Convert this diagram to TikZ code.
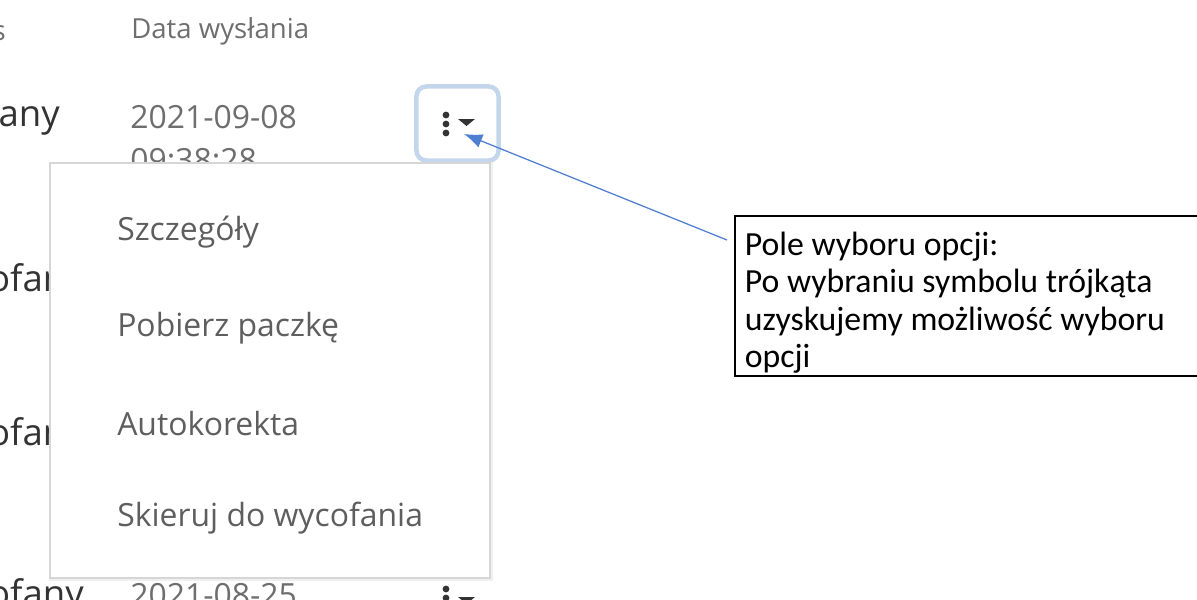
\documentclass[tikz,border=0pt]{standalone}
\usepackage{fontspec}
\usepackage{tikz}
\usetikzlibrary{positioning,arrows.meta}
\newfontfamily\uifont{Open Sans}
\newfontfamily\notefont{Carlito}
\definecolor{uigray}{HTML}{6E6E6E}
\definecolor{uidark}{HTML}{333333}
\definecolor{menutext}{HTML}{5E5E5E}
\definecolor{btnblue}{HTML}{C4D6EB}
\definecolor{arrowblue}{HTML}{4F7FD0}
\tikzset{
  header/.style={font=\uifont\fontsize{19.6}{22}\selectfont, text=uigray, inner sep=0pt},
  cell/.style={font=\uifont\fontsize{22.7}{26}\selectfont, text=uigray, inner sep=0pt},
  statuscell/.style={font=\uifont\fontsize{26}{30}\selectfont, text=uidark, inner sep=0pt, anchor=east},
  menuitem/.style={font=\uifont\fontsize{22.7}{26}\selectfont, text=menutext, inner sep=0pt, anchor=west},
  notebox/.style={draw=black, line width=1.4pt, fill=white, font=\notefont\fontsize{24}{26.6}\selectfont,
    align=flush left, anchor=north west, inner xsep=7pt, inner ysep=2pt, text width=12.5cm},
}
\begin{document}
\begin{tikzpicture}[x=0.025cm,y=-0.025cm]
    \useasboundingbox (0,0) rectangle (1197,599);
    \clip (0,0) rectangle (1197,599);

    %Table
    \node[header, anchor=east] at (6,31)   (hstatus) {Status};
    \node[header, anchor=west] at (131,31) (hdate)   {Data wysłania};
    \node[statuscell] at (60,117)  (s1) {Wysłany};
    \node[cell, anchor=west] at (130,117) (d1)  {2021-09-08};
    \node[cell, anchor=west] at (130,160) (t1)  {09:38:28};
    \node[statuscell] at (84,282) (s2) {wycofany};
    \node[statuscell] at (84,436) (s3) {wycofany};
    \node[statuscell] at (84,597) (s4) {wycofany};
    \node[cell, anchor=west] at (130,595) (d4)  {2021-08-25};

    %Buttons
    \node[draw=btnblue, line width=3.2pt, rounded corners=7pt, inner sep=0pt,
      minimum width=2.05cm, minimum height=1.85cm] at (457.5,123.5) (btn) {};
    \foreach \y in {115,124,133}
      \fill[uidark] (446,\y) circle (3.4);
    \fill[uidark] (458,119) -- (475,119) -- (466.5,126) -- cycle;
    \coordinate (caret) at (464,134);
    \foreach \y in {589,598}
      \fill[uidark] (446,\y) circle (3.4);
    \fill[uidark] (458,597) -- (475,597) -- (466.5,604) -- cycle;

    %Menu
    \fill[black!6] (49,162) rectangle (493,581);
    \draw[black!16, line width=1.2pt, fill=white] (50,163) rectangle (490,578);
    \node[menuitem] at (117,232) (m1) {Szczegóły};
    \node[menuitem] at (117,328) (m2) {Pobierz paczkę};
    \node[menuitem] at (117,424) (m3) {Autokorekta};
    \node[menuitem] at (117,518) (m4) {Skieruj do wycofania};

    %Note
    \node[notebox] at (734,215) (note) {\rule{0pt}{26pt}Pole wyboru opcji:\\Po wybraniu symbolu trójkąta\\uzyskujemy możliwość wyboru\\opcji};
    \coordinate (notetail) at (727,240);
    \draw[arrowblue, line width=0.9pt, -{Latex[length=13pt,width=10pt]}] (notetail) -- (caret);
\end{tikzpicture}
\end{document}
